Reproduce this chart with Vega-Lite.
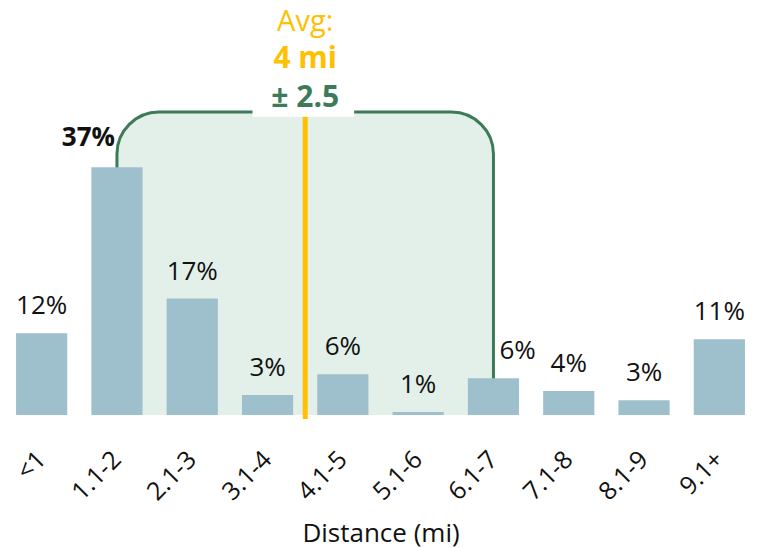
{
  "$schema": "https://vega.github.io/schema/vega-lite/v6.json",
  "width": 753,
  "height": 415,
  "autosize": {"type": "none"},
  "padding": {"left": 4, "top": 0, "right": 0, "bottom": 133},
  "config": {"view": {"stroke": null}, "font": "Open Sans"},
  "data": {
    "values": [
      {"dist": "<1", "pct": 12.2, "label": "12%"},
      {"dist": "1.1-2", "pct": 37.0, "label": "37%"},
      {"dist": "2.1-3", "pct": 17.4, "label": "17%"},
      {"dist": "3.1-4", "pct": 3.0, "label": "3%"},
      {"dist": "4.1-5", "pct": 6.1, "label": "6%"},
      {"dist": "5.1-6", "pct": 0.45, "label": "1%"},
      {"dist": "6.1-7", "pct": 5.5, "label": "6%"},
      {"dist": "7.1-8", "pct": 3.6, "label": "4%"},
      {"dist": "8.1-9", "pct": 2.2, "label": "3%"},
      {"dist": "9.1+", "pct": 11.3, "label": "11%"}
    ]
  },
  "layer": [
    {
      "data": {"values": [{"avg": 4, "lo": 1.5, "hi": 6.5}]},
      "mark": {"type": "rect", "fill": "#e3f0e9", "cornerRadiusTopLeft": 42, "cornerRadiusTopRight": 42},
      "encoding": {
        "x": {"field": "lo", "type": "quantitative", "scale": {"domain": [0, 10], "nice": false, "zero": false}, "axis": null},
        "x2": {"field": "hi"},
        "y": {"datum": 45.25, "type": "quantitative", "scale": {"domain": [0, 62], "nice": false}, "axis": null},
        "y2": {"datum": 0}
      }
    },
    {
      "data": {"values": [{"avg": 4, "lo": 1.5, "hi": 6.5}]},
      "mark": {"type": "rect", "fillOpacity": 0, "fill": "white", "stroke": "#3d7a58", "strokeWidth": 3, "cornerRadiusTopLeft": 42, "cornerRadiusTopRight": 42, "clip": true},
      "encoding": {
        "x": {"field": "lo", "type": "quantitative", "scale": {"domain": [0, 10], "nice": false, "zero": false}, "axis": null},
        "x2": {"field": "hi"},
        "y": {"datum": 45.25, "type": "quantitative", "axis": null},
        "y2": {"datum": -3}
      }
    },
    {
      "mark": {"type": "bar", "color": "#9ebfcc"},
      "encoding": {
        "x": {
          "field": "dist", "type": "nominal", "sort": null,
          "scale": {"paddingInner": 0.32, "paddingOuter": 0.16},
          "axis": {
            "title": "Distance (mi)", "labelAngle": -45, "labelAlign": "right", "labelBaseline": "middle",
            "labelPadding": 40, "labelFontSize": 25, "labelColor": "#111111", "labelFont": "Open Sans",
            "domain": false, "ticks": false, "grid": false,
            "titleFontSize": 26, "titleFontWeight": "normal", "titleColor": "#111111", "titleFont": "Open Sans",
            "titleY": 126, "titleBaseline": "alphabetic"
          }
        },
        "y": {"field": "pct", "type": "quantitative", "scale": {"domain": [0, 62], "nice": false}, "axis": null}
      }
    },
    {
      "transform": [{"filter": "datum.dist !== '1.1-2' && datum.dist !== '6.1-7'"}],
      "mark": {"type": "text", "fontSize": 26, "dy": -19, "baseline": "alphabetic", "color": "#111111"},
      "encoding": {
        "x": {"field": "dist", "type": "nominal", "sort": null,
          "scale": {"domain": ["<1", "1.1-2", "2.1-3", "3.1-4", "4.1-5", "5.1-6", "6.1-7", "7.1-8", "8.1-9", "9.1+"], "paddingInner": 0.32, "paddingOuter": 0.16},
          "axis": null},
        "y": {"field": "pct", "type": "quantitative"},
        "text": {"field": "label"}
      }
    },
    {
      "transform": [{"filter": "datum.dist === '1.1-2'"}],
      "mark": {"type": "text", "fontSize": 26, "fontWeight": "bold", "dy": -21, "dx": -2, "align": "right", "baseline": "alphabetic", "color": "#111111"},
      "encoding": {
        "x": {"field": "dist", "type": "nominal", "sort": null,
          "scale": {"domain": ["<1", "1.1-2", "2.1-3", "3.1-4", "4.1-5", "5.1-6", "6.1-7", "7.1-8", "8.1-9", "9.1+"], "paddingInner": 0.32, "paddingOuter": 0.16},
          "axis": null},
        "y": {"field": "pct", "type": "quantitative"},
        "text": {"field": "label"}
      }
    },
    {
      "transform": [{"filter": "datum.dist === '6.1-7'"}],
      "mark": {"type": "text", "fontSize": 26, "dy": -19, "dx": 6, "align": "left", "baseline": "alphabetic", "color": "#111111"},
      "encoding": {
        "x": {"field": "dist", "type": "nominal", "sort": null,
          "scale": {"domain": ["<1", "1.1-2", "2.1-3", "3.1-4", "4.1-5", "5.1-6", "6.1-7", "7.1-8", "8.1-9", "9.1+"], "paddingInner": 0.32, "paddingOuter": 0.16},
          "axis": null},
        "y": {"field": "pct", "type": "quantitative"},
        "text": {"field": "label"}
      }
    },
    {
      "data": {"values": [{"avg": 4, "lo": 1.5, "hi": 6.5}]},
      "mark": {"type": "rule", "color": "#ffc000", "strokeWidth": 5},
      "encoding": {
        "x": {"field": "avg", "type": "quantitative", "scale": {"domain": [0, 10], "nice": false, "zero": false}, "axis": null},
        "y": {"datum": 44.6, "type": "quantitative"},
        "y2": {"datum": -0.6}
      }
    },
    {
      "data": {"values": [{"avg": 4, "lo": 1.5, "hi": 6.5}]},
      "mark": {"type": "rect", "fill": "white"},
      "encoding": {
        "x": {"datum": 3.3, "type": "quantitative", "scale": {"domain": [0, 10], "nice": false, "zero": false}, "axis": null},
        "x2": {"datum": 4.65},
        "y": {"datum": 47.8, "type": "quantitative"},
        "y2": {"datum": 44.55}
      }
    },
    {
      "data": {"values": [{"avg": 4, "lo": 1.5, "hi": 6.5}]},
      "mark": {"type": "text", "text": "Avg:", "fontSize": 29, "baseline": "alphabetic", "color": "#ffc000"},
      "encoding": {
        "x": {"field": "avg", "type": "quantitative", "scale": {"domain": [0, 10], "nice": false, "zero": false}, "axis": null},
        "y": {"datum": 57.3, "type": "quantitative"}
      }
    },
    {
      "data": {"values": [{"avg": 4, "lo": 1.5, "hi": 6.5}]},
      "mark": {"type": "text", "text": "4 mi", "fontSize": 30, "fontWeight": "bold", "baseline": "alphabetic", "color": "#ffc000"},
      "encoding": {
        "x": {"field": "avg", "type": "quantitative", "scale": {"domain": [0, 10], "nice": false, "zero": false}, "axis": null},
        "y": {"datum": 51.9, "type": "quantitative"}
      }
    },
    {
      "data": {"values": [{"avg": 4, "lo": 1.5, "hi": 6.5}]},
      "mark": {"type": "text", "text": "± 2.5", "fontSize": 30, "fontWeight": "bold", "baseline": "alphabetic", "color": "#3d7a58"},
      "encoding": {
        "x": {"field": "avg", "type": "quantitative", "scale": {"domain": [0, 10], "nice": false, "zero": false}, "axis": null},
        "y": {"datum": 46.0, "type": "quantitative"}
      }
    }
  ],
  "resolve": {"scale": {"x": "independent"}}
}
